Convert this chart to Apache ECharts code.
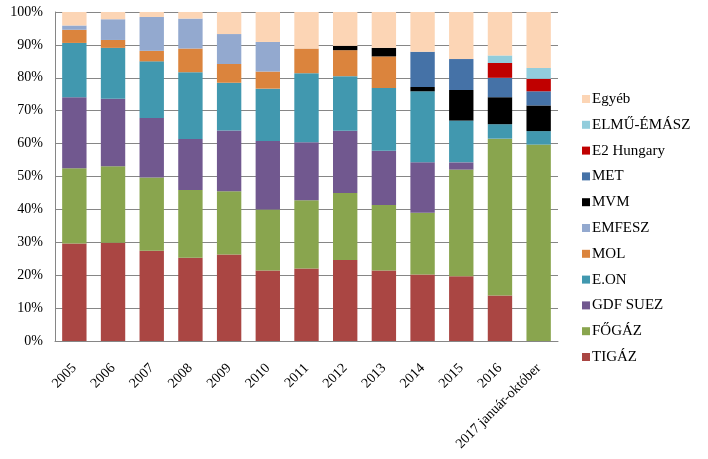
<!DOCTYPE html>
<html><head><meta charset="utf-8">
<script src="https://cdn.jsdelivr.net/npm/echarts@6/dist/echarts.min.js"></script>
<style>html,body{margin:0;padding:0;background:#fff}#c{width:708px;height:459px}</style>
</head><body><div id="c"></div>
<script>
const categories = ['2005','2006','2007','2008','2009','2010','2011','2012','2013','2014','2015','2016','2017 január-október'];
const tigaz   = [29.6,29.9,27.4,25.3,26.3,21.4,22.0,24.6,21.4,20.2,19.7,13.8,0];
const fogaz   = [22.9,23.2,22.3,20.6,19.2,18.6,20.8,20.4,19.9,18.8,32.4,47.7,59.7];
const gdf     = [21.6,20.5,18.1,15.5,18.5,20.8,17.6,18.9,16.5,15.3,2.2,0,0];
const eon     = [16.5,15.5,17.2,20.3,14.5,15.9,21.0,16.6,19.1,21.6,12.7,4.4,4.1];
const mol     = [4.0,2.4,3.2,7.2,5.7,5.2,7.5,7.9,9.6,0,0,0,0];
const emfesz  = [1.3,6.3,10.3,9.1,9.1,9.0,0,0,0,0,0,0,0];
const mvm     = [0,0,0,0,0,0,0,1.3,2.6,1.3,9.3,8.2,7.8];
const met     = [0,0,0,0,0,0,0,0,0,10.7,9.4,5.9,4.3];
const e2      = [0,0,0,0,0,0,0,0,0,0,0,4.5,3.8];
const elmu    = [0,0,0,0,0,0,0,0,0,0,0,2.3,3.3];
const egyeb   = [4.1,2.2,1.5,2.0,6.7,9.1,11.1,10.3,10.9,12.1,14.3,13.2,17.0];
const yTicks = [0,10,20,30,40,50,60,70,80,90,100];

const seriesDefs = [
  ['TIGÁZ', tigaz, '#AA4643'],
  ['FŐGÁZ', fogaz, '#89A54E'],
  ['GDF SUEZ', gdf, '#71588F'],
  ['E.ON', eon, '#4198AF'],
  ['MOL', mol, '#DB843D'],
  ['EMFESZ', emfesz, '#93A9CF'],
  ['MVM', mvm, '#000000'],
  ['MET', met, '#4572A7'],
  ['E2 Hungary', e2, '#C00000'],
  ['ELMŰ-ÉMÁSZ', elmu, '#92CDDC'],
  ['Egyéb', egyeb, '#FCD5B5']
];
const font = 'Liberation Serif';
const chart = echarts.init(document.getElementById('c'));
chart.setOption({
  animation:false,
  textStyle:{fontFamily:font},
  grid:{left:55,right:150,top:12,bottom:118},
  legend:{
    orient:'vertical', left:577, top:85, itemWidth:8, itemHeight:8, itemGap:7.8,
    icon:'rect',
    data: seriesDefs.map(d=>d[0]).reverse(),
    textStyle:{fontFamily:font,fontSize:15,color:'#000',padding:[0,0,0,-3],lineHeight:18}
  },
  xAxis:{
    type:'category', data:categories,
    axisLine:{lineStyle:{color:'#868686'}},
    axisTick:{show:false},
    axisLabel:{rotate:45,fontFamily:font,fontSize:14,color:'#000',interval:0,margin:25}
  },
  yAxis:{
    type:'value', min:0, max:100, interval:10,
    axisLine:{show:true,lineStyle:{color:'#868686'}},
    axisTick:{show:false},
    splitLine:{lineStyle:{color:'#868686'}},
    axisLabel:{formatter:v=>yTicks.includes(v)?v+'%':'',fontFamily:font,fontSize:14,color:'#000',margin:12}
  },
  series: seriesDefs.map(d=>({
    name:d[0], type:'bar', stack:'total', data:d[1], barWidth:'63%',
    itemStyle:{color:d[2]}
  }))
});
</script></body></html>
